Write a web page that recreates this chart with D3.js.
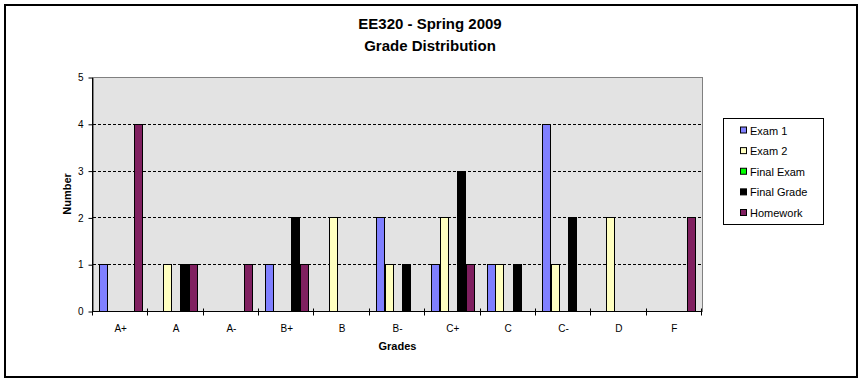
<!DOCTYPE html>
<html><head><meta charset="utf-8">
<script src="https://cdn.jsdelivr.net/npm/d3@7"></script>
<style>html,body{margin:0;padding:0;background:#fff}svg{display:block}</style>
</head><body>
<svg id="c" width="863" height="382"></svg>
<script>
const categories = ["A+","A","A-","B+","B","B-","C+","C","C-","D","F"];
const seriesNames = ["Exam 1","Exam 2","Final Exam","Final Grade","Homework"];
const exam1      = [1,0,0,1,0,2,1,1,4,0,0];
const exam2      = [0,1,0,0,2,1,2,1,1,2,0];
const finalExam  = [0,0,0,0,0,0,0,0,0,0,0];
const finalGrade = [0,1,0,2,0,1,3,1,2,0,0];
const homework   = [4,1,1,1,0,0,1,0,0,0,2];
const yTicks = [0,1,2,3,4,5];
const colors = ["#8080ff","#ffffc0","#00ff00","#000000","#802060"];
const seriesValues = [exam1, exam2, finalExam, finalGrade, homework];

const svg = d3.select("#c");
const font = "'Liberation Sans', Arial, sans-serif";
const L = 93, R = 702, T = 77, B = 311;

svg.append("rect").attr("x",5).attr("y",5).attr("width",852).attr("height",372)
  .attr("fill","#fff").attr("stroke","#000").attr("stroke-width",2);

const x = d3.scaleBand().domain(categories).range([L, R]).padding(0);
const x1 = d3.scaleBand().domain(seriesNames).range([0, x.bandwidth()]).paddingInner(0).paddingOuter(0.7);
const y = d3.scaleLinear().domain([0,5]).range([B, T]);

// plot area
svg.append("rect").attr("x",L).attr("y",T).attr("width",R-L).attr("height",B-T)
  .attr("fill","#e3e3e3").attr("stroke","#808080").attr("stroke-width",1)
  .attr("shape-rendering","crispEdges");

// gridlines
svg.append("g").selectAll("line").data(yTicks.filter(d=>d>0 && d<5)).join("line")
  .attr("x1",L).attr("x2",R).attr("y1",d=>Math.round(y(d))+0.5).attr("y2",d=>Math.round(y(d))+0.5)
  .attr("stroke","#000").attr("stroke-dasharray","3,2").attr("stroke-width",1);

// bars
const g = svg.append("g");
seriesNames.forEach((s,i)=>{
  g.append("g").selectAll("rect").data(seriesValues[i].map((v,j)=>({c:categories[j],v})).filter(d=>d.v>0)).join("rect")
    .attr("x",d=>Math.round(x(d.c)+x1(s))+0.5)
    .attr("y",d=>Math.round(y(d.v))+0.5)
    .attr("width",Math.round(x1.bandwidth())-1)
    .attr("height",d=>Math.round(y(0))-Math.round(y(d.v)))
    .attr("fill",colors[i]).attr("stroke","#000").attr("stroke-width",1);
});

// y axis
const ya = svg.append("g").attr("transform",`translate(${L-0.5},0.5)`)
  .call(d3.axisLeft(y).tickValues(yTicks).tickSize(4).tickPadding(5).tickFormat(d3.format("d")));
ya.select(".domain").attr("d",`M0,${T}V${B}`).attr("stroke","#000");
ya.selectAll(".tick line").attr("stroke","#000");
ya.selectAll("text").attr("font-family",font).attr("font-size","10px").attr("fill","#000");

// x axis
const boundaries = categories.map(c=>x(c)).concat([R]);
const xa = svg.append("g").attr("transform",`translate(0,${B+0.5})`);
xa.append("line").attr("x1",L).attr("x2",R).attr("stroke","#000");
xa.selectAll("line.t").data(boundaries).join("line").attr("class","t")
  .attr("x1",d=>Math.round(d)-0.5).attr("x2",d=>Math.round(d)-0.5).attr("y1",-3).attr("y2",4).attr("stroke","#000");
const xl = svg.append("g").attr("transform",`translate(0,${B})`)
  .call(d3.axisBottom(x).tickSize(0).tickPadding(14));
xl.select(".domain").remove();
xl.selectAll("text").attr("font-family",font).attr("font-size","10px").attr("fill","#000");

// axis titles
svg.append("text").attr("x",(L+R)/2).attr("y",350).attr("text-anchor","middle")
  .attr("font-family",font).attr("font-size","11px").attr("font-weight","bold").text("Grades");
svg.append("text").attr("transform",`translate(71,${(T+B)/2}) rotate(-90)`).attr("text-anchor","middle")
  .attr("font-family",font).attr("font-size","11px").attr("font-weight","bold").text("Number");

// title
svg.append("text").attr("x",430).attr("y",28.5).attr("text-anchor","middle")
  .attr("font-family",font).attr("font-size","15px").attr("font-weight","bold").text("EE320 - Spring 2009");
svg.append("text").attr("x",430).attr("y",50.5).attr("text-anchor","middle")
  .attr("font-family",font).attr("font-size","15px").attr("font-weight","bold").text("Grade Distribution");

// legend
svg.append("rect").attr("x",723.5).attr("y",118.5).attr("width",100).attr("height",106)
  .attr("fill","#fff").attr("stroke","#000");
const ly = d3.scalePoint().domain(seriesNames).range([130.5,213]);
const lg = svg.append("g").selectAll("g").data(seriesNames).join("g")
  .attr("transform",d=>`translate(0,${ly(d)})`);
lg.append("rect").attr("x",740.5).attr("y",-3.5).attr("width",6).attr("height",6)
  .attr("fill",(d,i)=>colors[i]).attr("stroke","#000");
lg.append("text").attr("x",750).attr("y",4).attr("font-family",font).attr("font-size","11px")
  .attr("fill","#000").text(d=>d);
</script>
</body></html>
